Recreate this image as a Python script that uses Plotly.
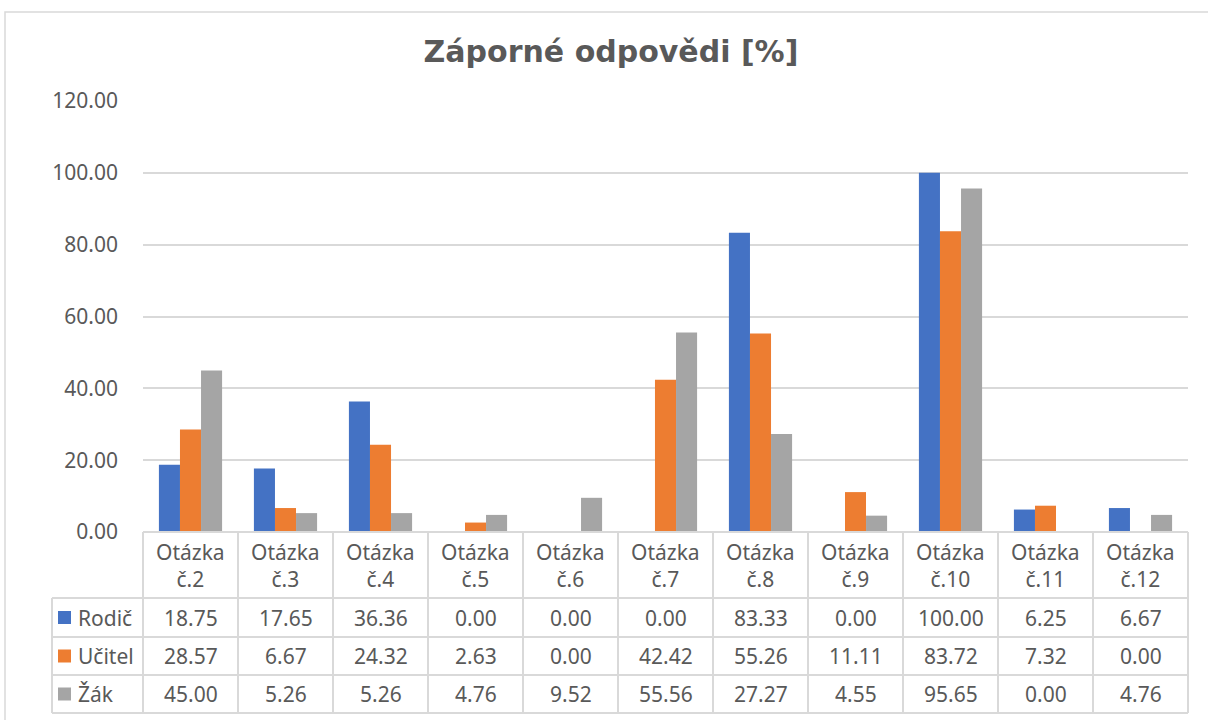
import plotly.graph_objects as go

categories = ["Otázka č.2", "Otázka č.3", "Otázka č.4", "Otázka č.5", "Otázka č.6",
              "Otázka č.7", "Otázka č.8", "Otázka č.9", "Otázka č.10", "Otázka č.11", "Otázka č.12"]
series_names = ["Rodič", "Učitel", "Žák"]
rodic = [18.75, 17.65, 36.36, 0.00, 0.00, 0.00, 83.33, 0.00, 100.00, 6.25, 6.67]
ucitel = [28.57, 6.67, 24.32, 2.63, 0.00, 42.42, 55.26, 11.11, 83.72, 7.32, 0.00]
zak = [45.00, 5.26, 5.26, 4.76, 9.52, 55.56, 27.27, 4.55, 95.65, 0.00, 4.76]
colors = ["#4472C4", "#ED7D31", "#A5A5A5"]
title_text = "Záporné odpovědi [%]"

W, H = 1208, 720
L, R, T, B = 143, 1188, 101, 532  # plot area pixels
pw, ph = R - L, B - T

def px_x(p):
    return (p - L) / pw

def px_y(p):
    return (B - p) / ph

FONT = "Noto Sans"
TXT = "#595959"
GRID = "#d9d9d9"
FS = 21

fig = go.Figure()
series = [rodic, ucitel, zak]
for name, vals, c in zip(series_names, series, colors):
    fig.add_trace(go.Bar(x=categories, y=vals, name=name, marker=dict(color=c, line=dict(width=0)),
                         showlegend=False, hoverinfo="x+y+name"))

shapes = []
annotations = []
n = len(categories)
line = dict(color=GRID, width=2)

row_y = [532, 598, 637, 675, 713]
leg_left = 52

shapes.append(dict(type="line", xref="paper", yref="paper", x0=0, x1=1,
                   y0=px_y(row_y[0]), y1=px_y(row_y[0]), line=line))
for ry in row_y[1:]:
    shapes.append(dict(type="line", xref="paper", yref="paper", x0=px_x(leg_left), x1=1,
                       y0=px_y(ry), y1=px_y(ry), line=line))
for i in range(n + 1):
    shapes.append(dict(type="line", xref="paper", yref="paper", x0=i / n, x1=i / n,
                       y0=px_y(row_y[0]), y1=px_y(row_y[-1]), line=line))
shapes.append(dict(type="line", xref="paper", yref="paper", x0=px_x(leg_left), x1=px_x(leg_left),
                   y0=px_y(row_y[1]), y1=px_y(row_y[-1]), line=line))

# outer chart border
shapes.append(dict(type="rect", xref="paper", yref="paper", x0=px_x(5), x1=px_x(1240),
                   y0=px_y(12), y1=px_y(760), line=dict(color="#d9d9d9", width=1.5),
                   layer="below"))

for i, cat in enumerate(categories):
    parts = cat.split(" ")
    annotations.append(dict(xref="paper", yref="paper", x=(i + 0.5) / n,
                            y=px_y((row_y[0] + row_y[1]) / 2),
                            xanchor="center", yanchor="middle",
                            text=parts[0] + "<br>" + parts[1], showarrow=False,
                            font=dict(family=FONT, size=FS, color=TXT), align="center"))

for r, (name, vals, c) in enumerate(zip(series_names, series, colors)):
    yc = (row_y[r + 1] + row_y[r + 2]) / 2
    for i, v in enumerate(vals):
        annotations.append(dict(xref="paper", yref="paper", x=(i + 0.5) / n, y=px_y(yc),
                                xanchor="center", yanchor="middle",
                                text=f"{v:.2f}", showarrow=False,
                                font=dict(family=FONT, size=FS, color=TXT)))
    shapes.append(dict(type="rect", xref="paper", yref="paper", x0=px_x(58), x1=px_x(71),
                       y0=px_y(yc + 6.5), y1=px_y(yc - 6.5), fillcolor=c, line=dict(width=0)))
    annotations.append(dict(xref="paper", yref="paper", x=px_x(76), y=px_y(yc),
                            xanchor="left", yanchor="middle",
                            text=name, showarrow=False,
                            font=dict(family=FONT, size=FS, color=TXT)))

fig.update_layout(
    width=W, height=H,
    margin=dict(l=L, r=W - R, t=T, b=H - B),
    paper_bgcolor="white", plot_bgcolor="white",
    barmode="group", bargap=0.335, bargroupgap=0,
    title=dict(text=f"<b>{title_text}</b>", x=611 / W, xanchor="center", xref="container",
               y=1 - 51 / H, yanchor="middle", yref="container",
               font=dict(family="DejaVu Sans", size=30, color=TXT)),
    xaxis=dict(range=[-0.5, n - 0.5], showticklabels=False, showgrid=False, zeroline=False,
               showline=False, ticks=""),
    yaxis=dict(range=[0, 120], dtick=20, tickformat=".2f", showgrid=True, gridcolor=GRID,
               gridwidth=1.5, zeroline=False, showline=False, ticks="",
               tickfont=dict(family=FONT, size=FS, color=TXT), ticklabelstandoff=24),
    shapes=shapes, annotations=annotations,
    font=dict(family=FONT, color=TXT),
)

fig.write_html("out.html", config={"displayModeBar": False},
               post_script="document.body.style.margin='0';document.body.style.overflow='hidden';")
